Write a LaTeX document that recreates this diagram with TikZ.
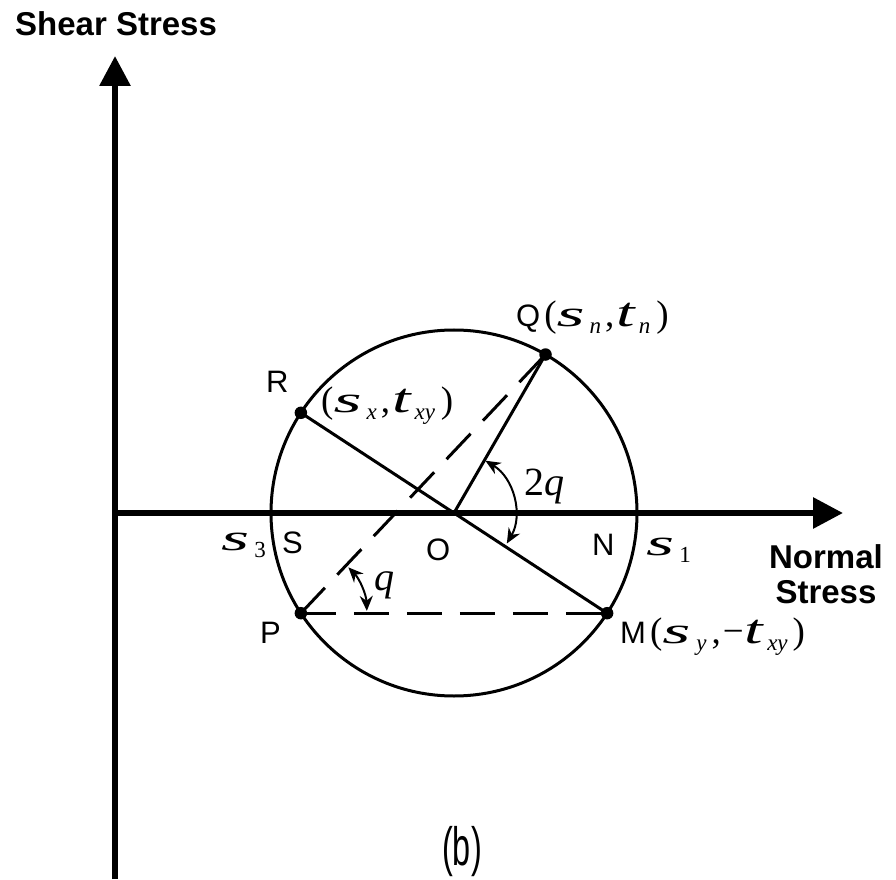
\documentclass[tikz,border=0pt]{standalone}
\usepackage{fontspec}
\setmainfont{Liberation Sans}
\newfontfamily\tnr{Liberation Serif}
\usetikzlibrary{arrows.meta}
\newcommand\mS{\scalebox{1.95}[1]{\itshape s}}
\newcommand\mT{\scalebox{1.8}[1.12]{\itshape t}}
\newcommand\mSub[1]{\raisebox{-7pt}{\fontsize{23}{23}\selectfont\itshape #1}}
\newcommand\mNum[1]{\raisebox{-7pt}{\fontsize{23}{23}\selectfont #1}}
\begin{document}
\begin{tikzpicture}[x=1pt,y=1pt,
  axis/.style={line width=6pt,-{Triangle[length=30pt,width=30pt]}},
  circ/.style={line width=3pt},
  seg/.style={line width=3pt},
  dashseg/.style={line width=3pt,dash pattern=on 35pt off 18pt},
  ang/.style={line width=2pt,{Stealth[length=15pt,width=13pt]}-{Stealth[length=15pt,width=13pt]}},
  dotnode/.style={circle,fill=black,inner sep=0pt,minimum size=12.5pt},
  lab/.style={inner sep=0pt,font=\fontsize{31}{31}\selectfont},
  mlab/.style={inner sep=0pt,font=\tnr\fontsize{37}{37}\selectfont},
  axlab/.style={inner sep=0pt,font=\bfseries\fontsize{33}{35}\selectfont}]
\useasboundingbox (0,0) rectangle (896,879);
\coordinate (O) at (454,366);
\coordinate (yb) at (115,0);
\coordinate (yt) at (115,823);
\coordinate (xl) at (112,366);
\coordinate (xr) at (843,366);
\draw[axis] (yb) -- (yt);
\draw[axis] (xl) -- (xr);
\draw[circ] (O) circle (183);
\path (O) ++(146.8:183) node[dotnode] (R) {};
\path (O) ++(-33.2:183) node[dotnode] (M) {};
\path (O) ++(213.2:183) node[dotnode] (P) {};
\path (O) ++(60:183) node[dotnode] (Q) {};
\draw[seg] (R.center) -- (M.center);
\draw[seg] (O) -- (Q.center);
\draw[dashseg] (P.center) -- (Q.center);
\draw[dashseg] (P.center) -- (M.center);
\draw[ang] (O) ++(59:61) arc[start angle=59,end angle=-30,radius=61];
\draw[ang] (P.center) ++(44:66) arc[start angle=44,end angle=2,radius=66];
\node[axlab,anchor=base west] (shear) at (15,843) {Shear Stress};
\node[axlab,anchor=north,align=center] (normal) at (826,335) {Normal\\Stress};
\node[lab,anchor=base west] (Rl) at (266,486) {R};
\node[mlab,anchor=base west] (Rc) at (321,466) {(\mS\kern5pt\mSub{x}\kern4pt,\kern2pt\mT\kern4pt\mSub{xy}\kern6pt)};
\node[lab,anchor=base west] (Ql) at (516,552) {Q\kern4pt{\tnr\fontsize{37}{37}\selectfont(\mS\kern5pt\mSub{n}\kern4pt,\kern2pt\mT\kern4pt\mSub{n}\kern6pt)}};
\node[mlab,anchor=base west] (s3) at (221,329) {\mS\kern5pt\mNum{3}};
\node[lab,anchor=base west] (Sl) at (282,326) {S};
\node[lab,anchor=base west] (Ol) at (426,319) {O};
\node[lab,anchor=base west] (Nl) at (592,324) {N};
\node[mlab,anchor=base west] (s1) at (646,324) {\mS\kern5pt\mNum{1}};
\node[lab,anchor=base west] (Pl) at (260,236) {P};
\node[lab,anchor=base west] (Ml) at (620,236) {M\kern4pt{\tnr\fontsize{37}{37}\selectfont(\mS\kern6pt\mSub{y}\kern5pt,\kern2pt−\kern1pt\mT\kern4pt\mSub{xy}\kern5pt)}};
\node[mlab,anchor=base west,font=\tnr\fontsize{40}{40}\selectfont] (th) at (374,289) {\itshape q};
\node[mlab,anchor=base west,font=\tnr\fontsize{40}{40}\selectfont] (th2) at (524,384) {2\itshape q};
\node[anchor=base west,inner sep=0pt] (blab) at (442,14) {\scalebox{0.6}[1]{\fontsize{54}{54}\selectfont (b)}};
\end{tikzpicture}
\end{document}
